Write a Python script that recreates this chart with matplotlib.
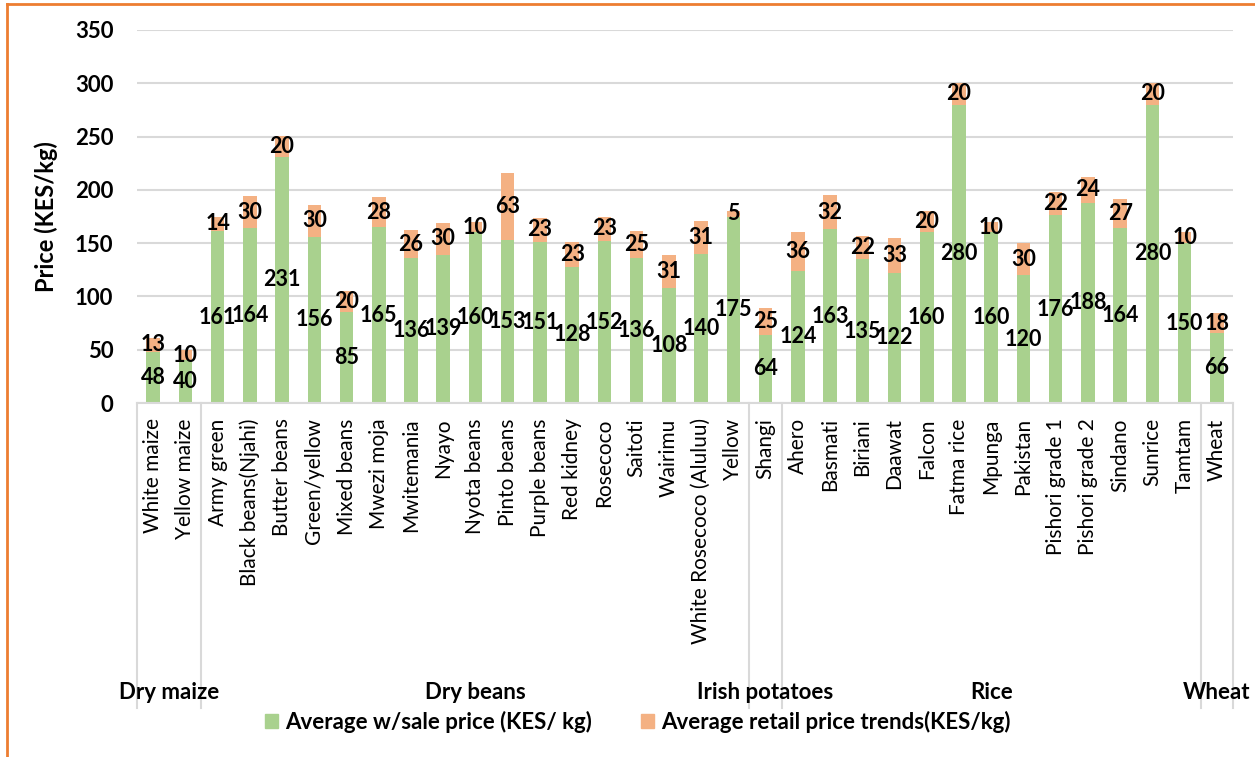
import matplotlib.pyplot as plt
from matplotlib.lines import Line2D
from matplotlib.patches import Patch
from matplotlib import transforms
import numpy as np

plt.rcParams['font.family'] = ['Lato', 'DejaVu Sans']

# commodity groups and the number of varieties in each
groups = ["Dry maize", "Dry beans", "Irish potatoes", "Rice", "Wheat"]
group_sizes = [2, 17, 1, 13, 1]

varieties = [
    "White maize", "Yellow maize",
    "Army green", "Black beans(Njahi)", "Butter beans", "Green/yellow", "Mixed beans",
    "Mwezi moja", "Mwitemania", "Nyayo", "Nyota beans", "Pinto beans", "Purple beans",
    "Red kidney", "Rosecoco", "Saitoti", "Wairimu", "White Rosecoco (Aluluu)", "Yellow",
    "Shangi",
    "Ahero", "Basmati", "Biriani", "Daawat", "Falcon", "Fatma rice", "Mpunga",
    "Pakistan", "Pishori grade 1", "Pishori grade 2", "Sindano", "Sunrice", "Tamtam",
    "Wheat",
]

# KES per kg
wholesale = [
    48, 40,
    161, 164, 231, 156, 85, 165, 136, 139, 160, 153, 151, 128, 152, 136, 108, 140, 175,
    64,
    124, 163, 135, 122, 160, 280, 160, 120, 176, 188, 164, 280, 150,
    66,
]
retail_margin = [
    13, 10,
    14, 30, 20, 30, 20, 28, 26, 30, 10, 63, 23, 23, 23, 25, 31, 31, 5,
    25,
    36, 32, 22, 33, 20, 20, 10, 30, 22, 24, 27, 20, 10,
    18,
]

GREEN = "#a9d18e"
ORANGE = "#f4b183"
GRID = "#d9d9d9"


def main():
    fig = plt.figure(figsize=(12.55, 7.57), dpi=100)
    ax = fig.add_axes([137 / 1255, 1 - 403 / 757, 1096 / 1255, 373 / 757])

    x = np.arange(len(varieties))
    w = np.array(wholesale)
    r = np.array(retail_margin)

    ax.bar(x, w, width=0.42, color=GREEN, zorder=2)
    ax.bar(x, r, width=0.42, bottom=w, color=ORANGE, zorder=2)

    for xi, wi, ri in zip(x, w, r):
        ax.text(xi, wi / 2, str(wi), ha='center', va='center',
                fontsize=15.5, fontweight='bold', zorder=3)
        ax.text(xi, wi + ri / 2, str(ri), ha='center', va='center',
                fontsize=15.5, fontweight='bold', zorder=3)

    ax.set_xlim(-0.5, len(varieties) - 0.5)
    ax.set_ylim(0, 350)
    ax.set_yticks(np.arange(0, 351, 50))
    ax.yaxis.grid(True, color=GRID, linewidth=1.5, zorder=0)
    ax.set_axisbelow(True)
    for side in ['top', 'right', 'left']:
        ax.spines[side].set_visible(False)
    ax.spines['bottom'].set_color(GRID)
    ax.spines['bottom'].set_linewidth(1.5)

    ax.tick_params(axis='y', length=0, pad=17, labelsize=16)
    for lbl in ax.get_yticklabels():
        lbl.set_fontweight('bold')
    ax.set_xticks(x)
    ax.set_xticklabels(varieties, rotation=90, fontsize=15, va='top')
    ax.tick_params(axis='x', length=0, pad=11)

    ax.set_ylabel("Price (KES/kg)", fontsize=17, fontweight='bold')
    ax.yaxis.set_label_coords(-0.072, 0.5)

    # group separators and group names under the variety labels
    trans = transforms.blended_transform_factory(ax.transData, ax.transAxes)
    edges = np.concatenate([[0], np.cumsum(group_sizes)]) - 0.5
    for e in edges:
        ax.add_line(Line2D([e, e], [0, -0.818], transform=trans, color=GRID,
                           linewidth=1.5, clip_on=False))
    for g, a, b in zip(groups, edges[:-1], edges[1:]):
        ax.text((a + b) / 2, -0.777, g, transform=trans, ha='center', va='center',
                fontsize=16, fontweight='bold')

    handles = [Patch(color=GREEN, label="Average w/sale price (KES/ kg)"),
               Patch(color=ORANGE, label="Average retail price trends(KES/kg)")]
    fig.legend(handles=handles, loc='center', bbox_to_anchor=(0.508, 0.046), ncol=2,
               frameon=False, handlelength=0.6, handleheight=0.6, handletextpad=0.3,
               columnspacing=2.2, prop={'weight': 'bold', 'size': 16})

    # orange frame around the figure
    fig.add_artist(Line2D([7 / 1255, 1], [1 - 4 / 757, 1 - 4 / 757],
                          transform=fig.transFigure, color="#ed7d31", linewidth=2))
    fig.add_artist(Line2D([7 / 1255, 7 / 1255], [0, 1 - 4 / 757],
                          transform=fig.transFigure, color="#ed7d31", linewidth=2))

    fig.savefig("out.png", dpi=100)


if __name__ == "__main__":
    main()
